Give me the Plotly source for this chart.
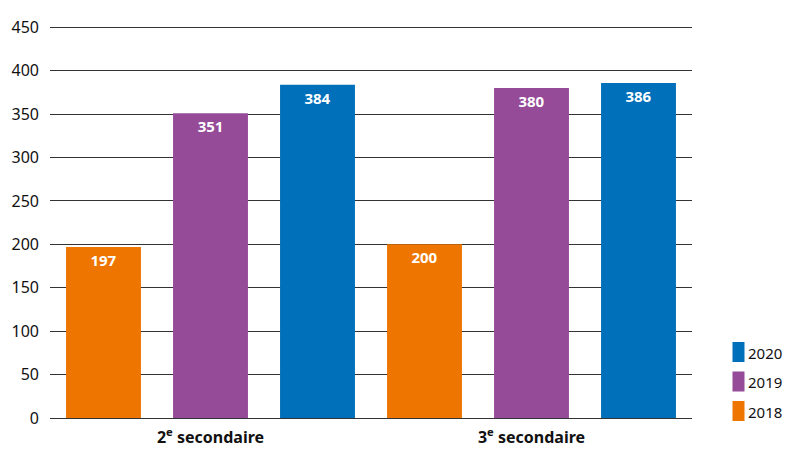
import plotly.graph_objects as go

categories = ["2<sup>e</sup> secondaire", "3<sup>e</sup> secondaire"]
years = ["2018", "2019", "2020"]
values_2018 = [197, 200]
values_2019 = [351, 380]
values_2020 = [384, 386]
colors = {"2018": "#EE7600", "2019": "#954B97", "2020": "#0070BA"}
series = {"2018": values_2018, "2019": values_2019, "2020": values_2020}
y_ticks = [0, 50, 100, 150, 200, 250, 300, 350, 400, 450]

W, H = 785, 450
ML, MR, MT, MB = 50, 93, 23, 32
PW, PH = W - ML - MR, H - MT - MB


def px_to_paper(xf, yf):
    return (xf - ML) / PW, (H - MB - yf) / PH


fig = go.Figure()
for yr in years:
    fig.add_trace(go.Bar(
        x=categories, y=series[yr], name=yr,
        marker=dict(color=colors[yr], line=dict(width=0)),
        text=[str(v) for v in series[yr]],
        textposition="inside", insidetextanchor="end",
        textfont=dict(color="white", size=15, family="Noto Sans"),
        texttemplate="<b>%{text}</b>",
        showlegend=False,
    ))

# custom legend (2020 on top)
shapes, annos = [], []
for i, yr in enumerate(reversed(years)):
    top = 342 + i * 29.5
    x0, y0 = px_to_paper(732.5, top)
    x1, y1 = px_to_paper(744.5, top + 20)
    shapes.append(dict(type="rect", xref="paper", yref="paper",
                       x0=x0, x1=x1, y0=y1, y1=y0,
                       fillcolor=colors[yr], line=dict(width=0)))
    tx, ty = px_to_paper(746, top + 10.5)
    annos.append(dict(text=yr, xref="paper", yref="paper", x=tx, y=ty,
                      xanchor="left", yanchor="middle", showarrow=False,
                      font=dict(size=15, color="#111111", family="Noto Sans")))

fig.update_layout(
    width=W, height=H,
    margin=dict(l=ML, r=MR, t=MT, b=MB, autoexpand=False),
    plot_bgcolor="white", paper_bgcolor="white",
    barmode="group", bargap=0, bargroupgap=0.3,
    font=dict(family="Noto Sans", size=15, color="#111111"),
    showlegend=False,
    shapes=shapes, annotations=annos,
    xaxis=dict(
        showgrid=False, showline=False, ticks="", automargin=False,
        ticklabelstandoff=8,
        tickfont=dict(size=16, family="Noto Sans", weight="bold"),
    ),
    yaxis=dict(
        range=[0, 455], tickvals=y_ticks, showgrid=True, automargin=False,
        gridcolor="#333333", gridwidth=1, zeroline=True,
        zerolinecolor="#333333", zerolinewidth=1,
        ticks="", ticklabelstandoff=10,
        tickfont=dict(size=16),
    ),
)

fig.write_html(
    "out.html",
    config={"displayModeBar": False},
    post_script="document.body.style.margin='0';document.body.style.overflow='hidden';",
)
